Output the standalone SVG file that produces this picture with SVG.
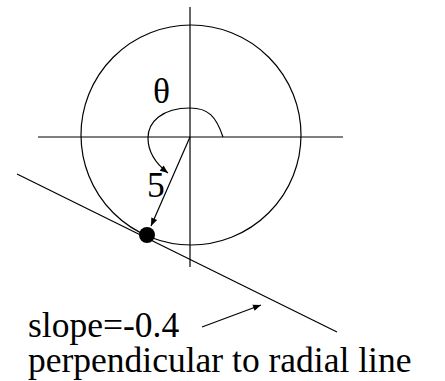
<svg xmlns="http://www.w3.org/2000/svg" width="445" height="381" viewBox="0 0 445 381">
<defs>
<marker id="ah" viewBox="0 0 10 10" refX="10" refY="5" markerWidth="10" markerHeight="8" markerUnits="userSpaceOnUse" orient="auto">
<path d="M0,1 L10,5 L0,9 z" fill="#000"/>
</marker>
</defs>
<style>
.ln{fill:none;stroke:#000;stroke-width:1.2}
.ax{fill:none;stroke:#555;stroke-width:1.5}
.t{font-family:'Liberation Serif','DejaVu Serif','Times New Roman',serif;font-size:35.5px;fill:#000}
</style>
<rect width="445" height="381" fill="#fff"/>
<g id="axes">
<line class="ax" x1="38" y1="137" x2="343" y2="137"/>
<line class="ln" x1="190" y1="7" x2="190" y2="267"/>
</g>
<g id="circle"><circle class="ln" cx="191" cy="135" r="110"/></g>
<g id="connectors">
<path class="ln" d="M223,137 C216,116 208,108 190,108 C162,108 148,122 148,138 C148,152 155,163 168,173" marker-end="url(#ah)"/>
<line class="ln" x1="190" y1="137" x2="151" y2="226" marker-end="url(#ah)"/>
<line class="ln" x1="17" y1="174" x2="337" y2="332"/>
<line class="ln" x1="202" y1="327" x2="261" y2="305" marker-end="url(#ah)"/>
</g>
<g id="point"><circle cx="147" cy="235" r="8" fill="#000"/></g>
<g id="labels">
<text class="t" x="153" y="103">θ</text>
<text class="t" x="147" y="197">5</text>
<text class="t" x="28" y="337">slope=-0.4</text>
<text class="t" x="28" y="372">perpendicular to radial line</text>
</g>
</svg>
